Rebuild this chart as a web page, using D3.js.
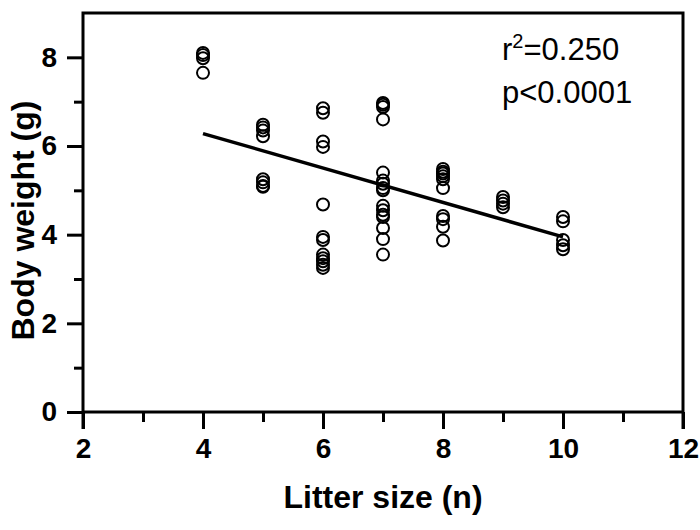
<!DOCTYPE html>
<html><head><meta charset="utf-8">
<script src="https://cdn.jsdelivr.net/npm/d3@7"></script>
<style>body{margin:0;background:#fff}svg{display:block}</style>
</head><body>
<svg id="c" width="700" height="530"></svg>
<script>
const litter4 = [8.1, 8.05, 7.98, 7.65];
const litter5 = [6.48, 6.42, 6.35, 6.22, 5.25, 5.18, 5.1, 5.08];
const litter6 = [6.85, 6.75, 6.1, 5.98, 4.68, 3.95, 3.88, 3.55, 3.47, 3.4, 3.32, 3.25];
const litter7 = [6.97, 6.93, 6.88, 6.6, 5.4, 5.22, 5.15, 5.05, 5.0, 4.65, 4.55, 4.45, 4.4, 4.15, 3.9, 3.55];
const litter8 = [5.48, 5.42, 5.38, 5.32, 5.25, 5.05, 4.42, 4.35, 4.18, 3.87];
const litter9 = [4.85, 4.77, 4.7, 4.62];
const litter10 = [4.4, 4.3, 3.88, 3.76, 3.67];
const litterSizes = [4, 5, 6, 7, 8, 9, 10];
const fitX = [4, 10];
const fitY = [6.28, 3.95];
const xTicks = [2, 4, 6, 8, 10, 12];
const xMinor = [3, 5, 7, 9, 11];
const yTicks = [0, 2, 4, 6, 8];
const yMinor = [1, 3, 5, 7];
const statLines = ["r", "=0.250", "p<0.0001"];

const groups = [litter4, litter5, litter6, litter7, litter8, litter9, litter10];
const points = [];
groups.forEach((g, i) => g.forEach(v => points.push({x: litterSizes[i], y: v})));

const svg = d3.select("#c");
const L = 83, R = 683, T = 13, B = 412;
const x = d3.scaleLinear().domain([2, 12]).range([L, R]);
const y = d3.scaleLinear().domain([0, 9]).range([B, T]);
const font = "'Liberation Sans', Arial, sans-serif";

svg.append("rect").attr("x", L).attr("y", T).attr("width", R - L).attr("height", B - T)
  .attr("fill", "none").attr("stroke", "#000").attr("stroke-width", 3);

const xa = svg.append("g").attr("transform", `translate(0,${B})`)
  .call(d3.axisBottom(x).tickValues(xTicks).tickSize(17).tickPadding(9).tickFormat(d3.format("d")));
xa.select(".domain").remove();
xa.selectAll(".tick line").attr("stroke-width", 3);
xa.selectAll("text").attr("font-family", font).attr("font-weight", "bold").attr("font-size", 28).attr("fill", "#000");
const xm = svg.append("g").attr("transform", `translate(0,${B})`)
  .call(d3.axisBottom(x).tickValues(xMinor).tickSize(10).tickFormat(""));
xm.select(".domain").remove();
xm.selectAll(".tick line").attr("stroke-width", 3);

const ya = svg.append("g").attr("transform", `translate(${L},0)`)
  .call(d3.axisLeft(y).tickValues(yTicks).tickSize(16).tickPadding(10).tickFormat(d3.format("d")));
ya.select(".domain").remove();
ya.selectAll(".tick line").attr("stroke-width", 3);
ya.selectAll("text").attr("font-family", font).attr("font-weight", "bold").attr("font-size", 28).attr("fill", "#000");
const ym = svg.append("g").attr("transform", `translate(${L},0)`)
  .call(d3.axisLeft(y).tickValues(yMinor).tickSize(9).tickFormat(""));
ym.select(".domain").remove();
ym.selectAll(".tick line").attr("stroke-width", 3);

svg.append("line").attr("x1", L).attr("x2", L).attr("y1", B).attr("y2", B + 17).attr("stroke", "#000").attr("stroke-width", 3);
svg.append("line").attr("x1", R).attr("x2", R).attr("y1", B).attr("y2", B + 17).attr("stroke", "#000").attr("stroke-width", 3);

svg.append("g").selectAll("circle").data(points).join("circle")
  .attr("cx", d => x(d.x)).attr("cy", d => y(d.y)).attr("r", 6)
  .attr("fill", "none").attr("stroke", "#000").attr("stroke-width", 2);

svg.append("line")
  .attr("x1", x(fitX[0])).attr("y1", y(fitY[0]))
  .attr("x2", x(fitX[1])).attr("y2", y(fitY[1]))
  .attr("stroke", "#000").attr("stroke-width", 3.5);

const t1 = svg.append("text").attr("x", 502).attr("y", 60).attr("font-family", font).attr("font-size", 31).attr("fill", "#000");
t1.append("tspan").text(statLines[0]);
t1.append("tspan").attr("dy", -12).attr("font-size", 20).text("2");
t1.append("tspan").attr("dy", 12).text(statLines[1]);
svg.append("text").attr("x", 502).attr("y", 103).attr("font-family", font).attr("font-size", 31).attr("fill", "#000").text(statLines[2]);

svg.append("text").attr("x", (L + R) / 2).attr("y", 508).attr("text-anchor", "middle")
  .attr("font-family", font).attr("font-weight", "bold").attr("font-size", 32).attr("fill", "#000").text("Litter size (n)");
svg.append("text").attr("transform", `translate(34,${(T + B) / 2 + 8}) rotate(-90)`).attr("text-anchor", "middle")
  .attr("font-family", font).attr("font-weight", "bold").attr("font-size", 32).attr("fill", "#000").text("Body weight (g)");
</script>
</body></html>
